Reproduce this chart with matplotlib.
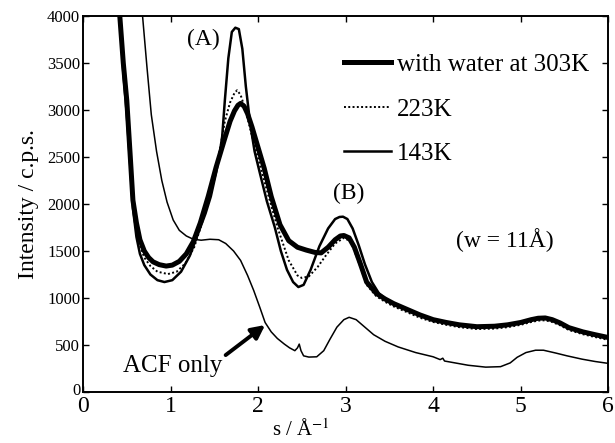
import matplotlib

matplotlib.use("Agg")
import matplotlib.pyplot as plt
from matplotlib.transforms import ScaledTranslation

plt.rcParams["font.family"] = ["Liberation Serif", "DejaVu Serif"]
plt.rcParams["mathtext.fontset"] = "stix"

# 303K, with water (thick)
s_303 = [0.42, 0.46, 0.50, 0.54, 0.57, 0.61, 0.65, 0.70, 0.75, 0.80, 0.87, 0.95, 1.02, 1.10,
         1.18, 1.26, 1.34, 1.43, 1.52, 1.62, 1.68, 1.73, 1.77, 1.80, 1.84, 1.88, 1.93, 2.00,
         2.07, 2.15, 2.25, 2.35, 2.45, 2.55, 2.65, 2.72, 2.80, 2.88, 2.94, 2.98, 3.04, 3.10,
         3.17, 3.24, 3.35, 3.45, 3.55, 3.70, 3.85, 4.00, 4.15, 4.30, 4.50, 4.70, 4.85, 5.00,
         5.12, 5.20, 5.28, 5.36, 5.45, 5.55, 5.71, 5.85, 6.00]
i_303 = [4000, 3500, 3100, 2500, 2040, 1800, 1620, 1500, 1430, 1385, 1355, 1340, 1350, 1390,
         1470, 1600, 1800, 2080, 2390, 2700, 2880, 2990, 3050, 3070, 3040, 2960, 2820, 2600,
         2380, 2080, 1780, 1610, 1540, 1510, 1485, 1480, 1540, 1620, 1660, 1665, 1640, 1540,
         1360, 1170, 1050, 990, 940, 880, 820, 770, 740, 715, 695, 700, 715, 740,
         770, 785, 788, 770, 735, 685, 640, 610, 580]

# 223K (dotted)
s_223 = [0.42, 0.46, 0.50, 0.54, 0.57, 0.61, 0.65, 0.70, 0.77, 0.85, 0.97, 1.07, 1.17, 1.27,
         1.36, 1.45, 1.55, 1.62, 1.68, 1.73, 1.76, 1.80, 1.85, 1.92, 2.02, 2.12, 2.22, 2.35,
         2.45, 2.50, 2.58, 2.68, 2.78, 2.88, 2.98, 3.06, 3.15, 3.24, 3.35, 3.45, 3.55, 3.70,
         3.85, 4.00, 4.15, 4.30, 4.50, 4.70, 4.85, 5.00, 5.12, 5.20, 5.28, 5.36, 5.45, 5.55,
         5.71, 5.85, 6.00]
i_223 = [4000, 3450, 3050, 2450, 2000, 1750, 1560, 1430, 1340, 1280, 1255, 1280, 1370, 1540,
         1800, 2120, 2500, 2880, 3080, 3180, 3210, 3160, 3020, 2760, 2420, 2080, 1755, 1400,
         1240, 1213, 1230, 1330, 1460, 1580, 1640, 1600, 1380, 1140, 1020, 960, 910, 850,
         790, 745, 715, 690, 670, 675, 690, 715, 745, 760, 763, 745, 710, 660,
         615, 585, 555]

# 143K (thin)
s_143 = [0.42, 0.46, 0.50, 0.54, 0.57, 0.61, 0.65, 0.70, 0.77, 0.85, 0.93, 1.02, 1.12, 1.22,
         1.32, 1.40, 1.46, 1.52, 1.56, 1.59, 1.62, 1.66, 1.70, 1.74, 1.78, 1.82, 1.86, 1.91,
         1.96, 2.02, 2.10, 2.19, 2.26, 2.33, 2.40, 2.46, 2.52, 2.60, 2.70, 2.80, 2.88, 2.93,
         2.97, 3.02, 3.08, 3.15, 3.22, 3.30, 3.38, 3.45, 3.55, 3.70, 3.85, 4.00, 4.15, 4.30,
         4.50, 4.70, 4.85, 5.00, 5.12, 5.20, 5.28, 5.36, 5.45, 5.55, 5.71, 5.85, 6.00]
i_143 = [4000, 3400, 2950, 2400, 1950, 1650, 1470, 1350, 1250, 1190, 1170, 1190, 1280, 1450,
         1700, 1900, 2080, 2330, 2530, 2720, 3100, 3550, 3830, 3875, 3860, 3650, 3250, 2850,
         2560, 2330, 2030, 1755, 1500, 1300, 1170, 1117, 1140, 1300, 1550, 1740, 1840, 1862,
         1865, 1840, 1740, 1560, 1360, 1170, 1050, 995, 945, 880, 820, 770, 735, 710,
         690, 695, 710, 735, 765, 780, 783, 765, 730, 680, 635, 605, 575]

# ACF only
s_acf = [0.68, 0.73, 0.78, 0.84, 0.90, 0.96, 1.03, 1.10, 1.18, 1.26, 1.35, 1.45, 1.55, 1.63,
         1.72, 1.80, 1.88, 1.95, 2.02, 2.08, 2.15, 2.22, 2.30, 2.36, 2.42, 2.45, 2.47, 2.49,
         2.52, 2.58, 2.67, 2.75, 2.82, 2.90, 2.98, 3.04, 3.12, 3.22, 3.32, 3.45, 3.60, 3.80,
         4.00, 4.08, 4.11, 4.13, 4.25, 4.40, 4.60, 4.77, 4.88, 4.96, 5.06, 5.17, 5.26, 5.40,
         5.53, 5.70, 5.85, 6.00]
i_acf = [4000, 3460, 2950, 2560, 2250, 2020, 1830, 1720, 1660, 1625, 1615, 1625, 1620, 1580,
         1500, 1400, 1240, 1080, 900, 740, 640, 570, 510, 470, 440, 470, 510, 440,
         385, 372, 375, 440, 560, 690, 770, 795, 770, 690, 610, 540, 480, 420,
         375, 345, 360, 330, 310, 285, 265, 270, 310, 370, 420, 445, 445, 415,
         385, 350, 325, 305]

fig = plt.figure(figsize=(6.15, 4.43), dpi=100)
ax = fig.add_axes([0.135, 0.115, 0.854, 0.849])

ax.plot(s_acf, i_acf, color="black", lw=1.1)
ax.plot(s_143, i_143, color="black", lw=1.8, label="143K")
ax.plot(s_223, i_223, color="black", lw=1.4, linestyle=(0, (1, 1.2)), label="223K")
ax.plot(s_303, i_303, color="black", lw=3.6, label="with water at 303K")

ax.set_xlim(0, 6)
ax.set_ylim(0, 4000)
ax.set_xticks(range(0, 7))
ax.set_yticks(range(0, 4001, 500))
ax.tick_params(axis="x", which="both", direction="in", top=True, length=4, width=1,
               labelsize=17, pad=3)
ax.tick_params(axis="y", which="both", direction="in", right=True, length=4, width=1,
               labelsize=12, pad=2)
for sp in ax.spines.values():
    sp.set_linewidth(1.4)

# y "0" sits a little above the axis line, as in the original
fig.canvas.draw()
ylab0 = ax.get_yticklabels()[0]
ylab0.set_transform(ylab0.get_transform() + ScaledTranslation(0, 2 / 72, fig.dpi_scale_trans))

ax.set_ylabel("Intensity / c.p.s.", fontsize=17, labelpad=6)
ax.set_xlabel("s / Å$^{-1}$", fontsize=15)
ax.xaxis.set_label_coords(0.415, -0.072)

h, l = ax.get_legend_handles_labels()
order = [2, 1, 0]
ax.legend([h[k] for k in order], [l[k] for k in order], loc="upper left",
          bbox_to_anchor=(0.497, 0.900), frameon=False, fontsize=18,
          handlelength=1.88, handletextpad=0.22, labelspacing=0.88,
          borderpad=0, borderaxespad=0)

ax.text(1.38, 3755, "(A)", fontsize=17, ha="center", va="center")
ax.text(3.04, 2115, "(B)", fontsize=17, ha="center", va="center")
ax.text(4.82, 1617, "(w = 11Å)", fontsize=17, ha="center", va="center")
ax.annotate("ACF only", xy=(2.08, 713), xytext=(1.03, 277), fontsize=18,
            ha="center", va="center",
            arrowprops=dict(arrowstyle="-|>", color="black", lw=2.8,
                            mutation_scale=20, shrinkA=0, shrinkB=0,
                            relpos=(1.0, 0.9)))

fig.savefig("out.png", dpi=100)
